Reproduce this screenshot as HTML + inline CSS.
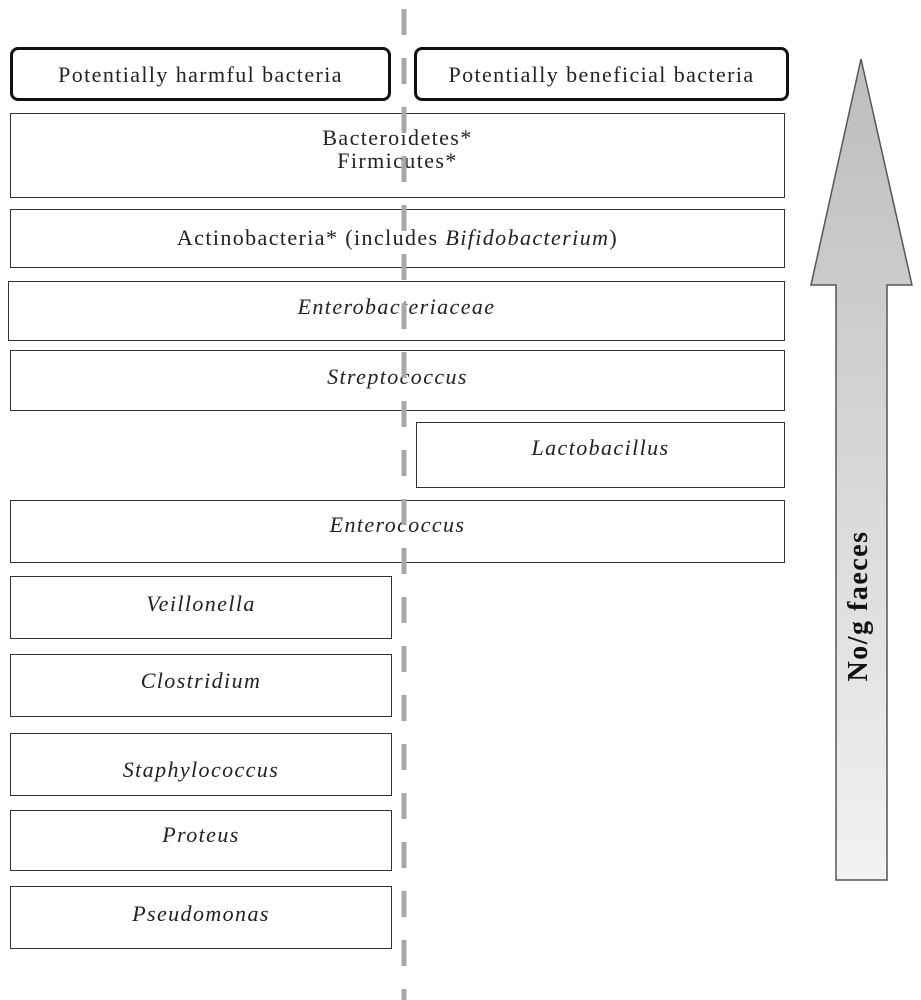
<!DOCTYPE html>
<html><head><meta charset="utf-8"><style>
body{margin:0;width:921px;height:1000px;background:#fff;position:relative;overflow:hidden;font-family:"Liberation Serif",serif;}
.b{position:absolute;box-sizing:border-box;border:1px solid #333;background:#fff;text-align:center;font-size:22px;letter-spacing:1.4px;color:#222;line-height:23px;padding-top:8px;white-space:nowrap;}
.r{border:3px solid #111;border-radius:8px;padding-top:13px;}
</style></head><body>
<div class="b r" style="left:10px;top:47px;width:381px;height:54px;">Potentially harmful bacteria</div>
<div class="b r" style="left:414px;top:47px;width:375px;height:54px;">Potentially beneficial bacteria</div>
<div class="b" style="left:10px;top:113px;width:775px;height:85px;padding-top:12px;">Bacteroidetes*<br>Firmicutes*</div>
<div class="b" style="left:10px;top:209px;width:775px;height:59px;padding-top:16px;">Actinobacteria* (includes <i>Bifidobacterium</i>)</div>
<div class="b" style="left:8px;top:281px;width:777px;height:60px;padding-top:13px;"><i>Enterobacteriaceae</i></div>
<div class="b" style="left:10px;top:350px;width:775px;height:61px;padding-top:14px;"><i>Streptococcus</i></div>
<div class="b" style="left:416px;top:422px;width:369px;height:66px;padding-top:13px;"><i>Lactobacillus</i></div>
<div class="b" style="left:10px;top:500px;width:775px;height:63px;padding-top:12px;"><i>Enterococcus</i></div>
<div class="b" style="left:10px;top:576px;width:382px;height:63px;padding-top:15px;"><i>Veillonella</i></div>
<div class="b" style="left:10px;top:654px;width:382px;height:63px;padding-top:14px;"><i>Clostridium</i></div>
<div class="b" style="left:10px;top:733px;width:382px;height:63px;padding-top:24px;"><i>Staphylococcus</i></div>
<div class="b" style="left:10px;top:810px;width:382px;height:61px;padding-top:12px;"><i>Proteus</i></div>
<div class="b" style="left:10px;top:886px;width:382px;height:63px;padding-top:15px;"><i>Pseudomonas</i></div>
<svg width="921" height="1000" style="position:absolute;left:0;top:0;pointer-events:none">
<defs><linearGradient id="g" x1="0" y1="0" x2="0" y2="1"><stop offset="0" stop-color="#bdbdbd"/><stop offset="1" stop-color="#f2f2f2"/></linearGradient></defs>
<line x1="404" y1="9" x2="404" y2="1000" stroke="#a8a8a8" stroke-width="5" stroke-dasharray="26 23"/>
<polygon points="861,59 912,285 887,285 887,880 836,880 836,285 811,285" fill="url(#g)" stroke="#555" stroke-width="1.5"/>
<text transform="translate(867,606) rotate(-90)" text-anchor="middle" font-family="Liberation Serif, serif" font-weight="bold" font-size="28" letter-spacing="1.5" fill="#111">No/g faeces</text>
</svg>
</body></html>
